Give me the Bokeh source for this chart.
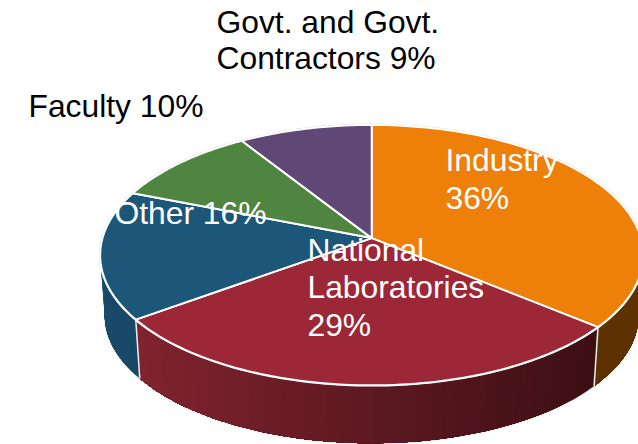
import numpy as np
from bokeh.plotting import figure
from bokeh.core.properties import value
from bokeh.embed import file_html
from bokeh.resources import INLINE

categories = ["Industry", "National Laboratories", "Other", "Faculty", "Govt. and Govt. Contractors"]
shares = [36, 29, 16, 10, 9]
top_colors = ["#EE7F09", "#9C2737", "#1C5678", "#4F8540", "#5F4776"]
side_left = ["#5E3100", "#80232F", "#1A4A6B", "#2F5026", "#392B47"]
side_right = ["#5E3100", "#3C0F13", "#154261", "#2F5026", "#392B47"]

label_lines = [
    ["Govt. and Govt.", 216, 21, "#000000"],
    ["Contractors 9%", 216, 57, "#000000"],
    ["Faculty 10%", 28, 105, "#000000"],
    ["Industry", 445, 159, "#ffffff"],
    ["36%", 445, 197, "#ffffff"],
    ["Other 16%", 114, 212, "#ffffff"],
    ["National", 307, 249, "#ffffff"],
    ["Laboratories", 307, 286, "#ffffff"],
    ["29%", 307, 324, "#ffffff"],
]

AX, AY = 371.2, 237.6
BX, BY, K = 269.2, 128.0, 0.1308
BOTTOM_Y, BOTTOM_S = 298.0, 0.983


def project(theta_deg, level=0):
    t = np.radians(np.asarray(theta_deg, dtype=float))
    u, v = np.sin(t), -np.cos(t)
    den = 1 - K * v
    s = BOTTOM_S if level else 1.0
    ay = BOTTOM_Y if level else AY
    return AX + s * BX * u / den, ay + s * BY * v / den


def hex_mix(a, b, f):
    ca = [int(a[i:i + 2], 16) for i in (1, 3, 5)]
    cb = [int(b[i:i + 2], 16) for i in (1, 3, 5)]
    return "#%02x%02x%02x" % tuple(int(round(x + (y - x) * f)) for x, y in zip(ca, cb))


bounds = np.concatenate([[0], np.cumsum(shares)]) * 3.6

p = figure(width=638, height=444, x_range=(0, 638), y_range=(444, 0),
           output_backend="svg", toolbar_location=None,
           min_border=0, outline_line_color=None, background_fill_color="#ffffff",
           border_fill_color="#ffffff")
p.axis.visible = False
p.grid.visible = False

# silhouette halo
sil = np.linspace(0, 360, 361)
bx, by = project(sil, 1)
p.patch(bx, by, fill_color=None, line_color="#d4d4d4", line_width=1.5)

# walls: slices that face the viewer; each strip runs on to the slice's end, so no seams show
visible = [(45, bounds[1], 0), (bounds[1], bounds[2], 1), (bounds[2], 315, 2)]
for a0, a1, idx in visible:
    n = 48
    steps = np.linspace(a0, a1, n + 1)
    xs0, ys0 = project(steps, 0)
    xs1, ys1 = project(steps, 1)
    lo, hi = xs0.min(), xs0.max()
    for j in range(n):
        f = (0.5 * (xs0[j] + xs0[j + 1]) - lo) / (hi - lo)
        col = hex_mix(side_left[idx], side_right[idx], f)
        p.patch(np.r_[xs0[j:], xs1[j:][::-1]], np.r_[ys0[j:], ys1[j:][::-1]],
                fill_color=col, line_color=None)
for a in (bounds[1], bounds[2]):
    xa, ya = project([a, a], 0)
    xb, yb = project([a, a], 1)
    p.line([xa[0], xb[0]], [ya[0], yb[0]], line_color="#eeeeee", line_width=1.5)

# halo of top face
tx, ty = project(sil, 0)
p.patch(tx, ty, fill_color=None, line_color="#d4d4d4", line_width=2.5)

# top faces
for i, col in enumerate(top_colors):
    arc = np.linspace(bounds[i], bounds[i + 1], 80)
    ax_, ay_ = project(arc, 0)
    p.patch(np.r_[AX, ax_], np.r_[AY, ay_], fill_color=col, line_color="#ffffff",
            line_width=2, line_join="round")

for txt, x, y, col in label_lines:
    p.text([x], [y], text=[txt], text_color=col, text_font=value("Liberation Sans"),
           text_font_size="31.8px", text_align="left", text_baseline="middle")

open("out.html", "w").write(file_html(p, INLINE))
